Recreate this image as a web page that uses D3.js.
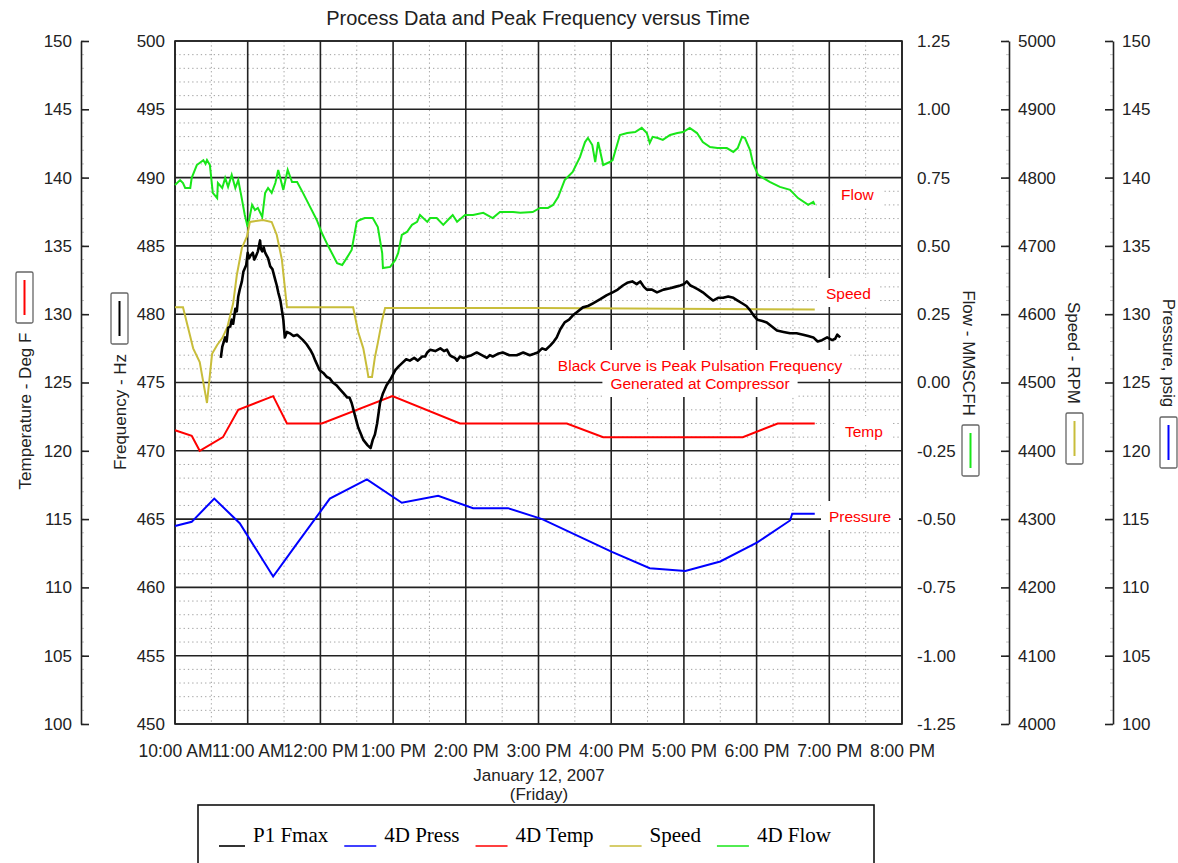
<!DOCTYPE html>
<html><head><meta charset="utf-8">
<script src="https://cdn.jsdelivr.net/npm/d3@7"></script>
<style>body{margin:0;background:#fff}</style>
</head><body>
<svg id="chart" width="1178" height="863"></svg>
<script>
// ---------------- DATA ----------------
const hourTicks = [10, 11, 12, 13, 14, 15, 16, 17, 18, 19, 20];
const timeLabels = ["10:00 AM","11:00 AM","12:00 PM","1:00 PM","2:00 PM","3:00 PM","4:00 PM","5:00 PM","6:00 PM","7:00 PM","8:00 PM"];
const freqTicks = [450, 455, 460, 465, 470, 475, 480, 485, 490, 495, 500];
const tempTicks = [100, 105, 110, 115, 120, 125, 130, 135, 140, 145, 150];
const flowTicks = [-1.25, -1.0, -0.75, -0.5, -0.25, 0, 0.25, 0.5, 0.75, 1.0, 1.25];
const speedTicks = [4000, 4100, 4200, 4300, 4400, 4500, 4600, 4700, 4800, 4900, 5000];
const pressTicks = [100, 105, 110, 115, 120, 125, 130, 135, 140, 145, 150];
const seriesNames = ["P1 Fmax", "4D Press", "4D Temp", "Speed", "4D Flow"];

// [hour of day, value]
const freqSeries = [[10.63,476.8],[10.65,477.6],[10.69,478.3],[10.71,478.0],[10.73,479.0],[10.76,479.1],[10.78,479.6],[10.80,479.3],[10.83,480.4],[10.85,480.2],[10.87,481.3],[10.89,481.8],[10.92,482.4],[10.94,483.1],[10.98,483.6],[11.00,484.5],[11.02,484.1],[11.04,484.3],[11.07,484.5],[11.09,484.0],[11.11,484.2],[11.14,484.6],[11.17,485.4],[11.18,484.8],[11.20,484.6],[11.22,484.9],[11.24,484.5],[11.28,484.1],[11.31,483.5],[11.34,483.3],[11.38,482.5],[11.40,482.1],[11.42,481.6],[11.45,481.0],[11.47,480.3],[11.49,479.6],[11.51,478.3],[11.54,478.7],[11.58,478.6],[11.63,478.4],[11.68,478.5],[11.72,478.3],[11.76,478.1],[11.81,477.8],[11.86,477.4],[11.90,477.0],[11.93,476.6],[11.99,475.9],[12.04,475.7],[12.09,475.4],[12.13,475.3],[12.17,475.0],[12.22,474.8],[12.27,474.5],[12.32,474.2],[12.37,473.9],[12.40,473.9],[12.43,473.5],[12.48,472.5],[12.52,471.7],[12.56,471.2],[12.59,470.8],[12.62,470.6],[12.65,470.4],[12.69,470.2],[12.72,470.8],[12.75,471.2],[12.78,472.0],[12.82,473.5],[12.86,474.2],[12.91,474.8],[12.96,475.2],[13.00,475.6],[13.03,475.9],[13.08,476.2],[13.12,476.4],[13.18,476.7],[13.23,476.6],[13.29,476.8],[13.34,476.6],[13.40,476.9],[13.44,476.9],[13.47,477.2],[13.51,477.4],[13.58,477.3],[13.65,477.5],[13.70,477.3],[13.74,477.4],[13.78,477.0],[13.81,476.9],[13.85,476.8],[13.88,476.6],[13.92,476.9],[13.97,476.8],[14.02,476.9],[14.08,477.0],[14.15,477.2],[14.22,477.0],[14.29,476.8],[14.33,477.0],[14.37,476.9],[14.44,477.1],[14.51,477.2],[14.60,477.0],[14.70,477.0],[14.79,477.2],[14.88,477.0],[14.94,477.1],[14.99,477.2],[15.05,477.5],[15.10,477.4],[15.16,477.7],[15.21,478.0],[15.25,478.3],[15.30,478.9],[15.36,479.4],[15.42,479.6],[15.47,479.9],[15.54,480.2],[15.61,480.5],[15.68,480.6],[15.75,480.8],[15.85,481.1],[15.94,481.4],[16.02,481.6],[16.09,481.8],[16.16,482.1],[16.22,482.3],[16.29,482.4],[16.35,482.2],[16.40,482.4],[16.45,482.0],[16.49,481.8],[16.56,481.8],[16.63,481.6],[16.72,481.8],[16.81,481.9],[16.88,482.0],[16.95,482.1],[17.00,482.2],[17.04,482.4],[17.09,482.1],[17.13,482.0],[17.20,481.8],[17.26,481.6],[17.33,481.3],[17.40,481.0],[17.47,481.2],[17.54,481.2],[17.61,481.3],[17.68,481.2],[17.74,481.0],[17.80,480.8],[17.86,480.6],[17.91,480.3],[17.96,479.9],[18.01,479.6],[18.08,479.5],[18.14,479.4],[18.21,479.1],[18.28,478.8],[18.37,478.7],[18.46,478.6],[18.55,478.6],[18.64,478.5],[18.71,478.4],[18.78,478.3],[18.84,478.0],[18.90,478.1],[18.97,478.3],[19.04,478.1],[19.08,478.2],[19.11,478.5],[19.15,478.3]];

const pressSeries = [[10.0,114.5],[10.23,114.8],[10.54,116.5],[10.89,114.7],[11.35,110.8],[11.65,113.0],[12.13,116.5],[12.64,117.9],[13.12,116.2],[13.62,116.7],[14.10,115.8],[14.58,115.8],[15.05,115.0],[16.01,112.6],[16.53,111.4],[17.02,111.2],[17.50,111.9],[18.01,113.3],[18.46,114.9],[18.49,115.4],[18.8,115.4]];

const tempSeries = [[10.0,121.5],[10.23,121.1],[10.34,120.0],[10.66,121.0],[10.87,123.0],[11.35,124.0],[11.54,122.0],[12.02,122.0],[12.99,124.0],[13.92,122.0],[15.39,122.0],[15.89,121.0],[17.81,121.0],[18.29,122.0],[18.8,122.0]];

const speedSeries = [[10.0,4610],[10.11,4610],[10.18,4580],[10.25,4550],[10.34,4530],[10.44,4470],[10.51,4542],[10.58,4555],[10.65,4565],[10.72,4581],[10.80,4616],[10.85,4657],[10.92,4697],[10.99,4714],[11.03,4735],[11.21,4738],[11.33,4735],[11.40,4716],[11.47,4680],[11.54,4610],[12.45,4610],[12.52,4574],[12.59,4550],[12.64,4521],[12.66,4508],[12.71,4508],[12.75,4537],[12.79,4558],[12.85,4592],[12.89,4609],[15.0,4609],[18.8,4607]];

const flowSeries = [[10.00,0.723],[10.07,0.741],[10.11,0.730],[10.14,0.712],[10.21,0.712],[10.23,0.749],[10.30,0.796],[10.39,0.814],[10.42,0.800],[10.44,0.814],[10.48,0.796],[10.52,0.694],[10.58,0.675],[10.59,0.730],[10.65,0.712],[10.69,0.749],[10.73,0.716],[10.78,0.760],[10.83,0.712],[10.87,0.741],[10.91,0.686],[10.96,0.613],[11.00,0.569],[11.06,0.650],[11.10,0.631],[11.14,0.639],[11.20,0.606],[11.24,0.694],[11.28,0.712],[11.33,0.694],[11.38,0.730],[11.42,0.778],[11.49,0.705],[11.55,0.778],[11.61,0.734],[11.68,0.734],[11.76,0.694],[11.86,0.642],[11.95,0.595],[12.02,0.547],[12.10,0.503],[12.23,0.437],[12.30,0.430],[12.37,0.459],[12.43,0.485],[12.50,0.588],[12.54,0.595],[12.61,0.602],[12.72,0.602],[12.79,0.569],[12.85,0.474],[12.86,0.419],[12.96,0.423],[13.03,0.448],[13.07,0.474],[13.12,0.540],[13.19,0.551],[13.26,0.577],[13.33,0.588],[13.37,0.613],[13.47,0.588],[13.51,0.602],[13.60,0.602],[13.69,0.577],[13.78,0.602],[13.82,0.613],[13.88,0.588],[13.99,0.613],[14.10,0.613],[14.24,0.621],[14.37,0.602],[14.47,0.624],[14.65,0.624],[14.75,0.621],[14.92,0.624],[15.02,0.639],[15.13,0.639],[15.20,0.650],[15.27,0.679],[15.36,0.741],[15.47,0.771],[15.57,0.825],[15.64,0.880],[15.68,0.895],[15.74,0.869],[15.78,0.807],[15.82,0.880],[15.89,0.796],[15.98,0.807],[16.02,0.814],[16.12,0.906],[16.22,0.913],[16.33,0.917],[16.42,0.932],[16.49,0.913],[16.53,0.877],[16.57,0.899],[16.64,0.895],[16.71,0.888],[16.81,0.906],[16.91,0.913],[16.99,0.917],[17.08,0.932],[17.18,0.913],[17.26,0.880],[17.36,0.862],[17.46,0.858],[17.59,0.858],[17.68,0.844],[17.74,0.858],[17.80,0.899],[17.84,0.895],[17.91,0.851],[17.95,0.803],[18.02,0.760],[18.18,0.734],[18.32,0.716],[18.46,0.705],[18.57,0.675],[18.71,0.650],[18.78,0.661],[18.80,0.650]];

// ---------------- LAYOUT ----------------
const X0 = 175, X1 = 902, Y0 = 41, Y1 = 724;
const SANS = "'Liberation Sans', Arial, sans-serif";
const SERIF = "'Liberation Serif', 'Times New Roman', serif";
const colors = {freq:"#000000", press:"#0000ff", temp:"#ff0000", speed:"#c8bd3a", flow:"#19e619"};
const legendColors = [colors.freq, colors.press, colors.temp, colors.speed, colors.flow];
const TICK_FS = 17;

const svg = d3.select("#chart");
const x = d3.scaleLinear().domain([10, 20]).range([X0, X1]);
const yFreq = d3.scaleLinear().domain([450, 500]).range([Y1, Y0]);
const yTemp = d3.scaleLinear().domain([100, 150]).range([Y1, Y0]);
const yFlow = d3.scaleLinear().domain([-1.25, 1.25]).range([Y1, Y0]);
const ySpeed = d3.scaleLinear().domain([4000, 5000]).range([Y1, Y0]);
const yPress = d3.scaleLinear().domain([100, 150]).range([Y1, Y0]);

// minor grid
const minorH = d3.range(450, 501, 1).filter(v => v % 5 !== 0);
const minorV = d3.range(10.5, 20, 1);
const g = svg.append("g");
g.selectAll(".mh").data(minorH).join("line")
  .attr("x1", X0).attr("x2", X1).attr("y1", d => yFreq(d)).attr("y2", d => yFreq(d))
  .attr("stroke", "#a0a0a0").attr("stroke-width", 1).attr("stroke-dasharray", "1.3,3");
g.selectAll(".mv").data(minorV).join("line")
  .attr("x1", d => x(d)).attr("x2", d => x(d)).attr("y1", Y0).attr("y2", Y1)
  .attr("stroke", "#a0a0a0").attr("stroke-width", 1).attr("stroke-dasharray", "1.3,3");
// major grid
g.selectAll(".Mh").data(freqTicks).join("line")
  .attr("x1", X0).attr("x2", X1).attr("y1", d => yFreq(d)).attr("y2", d => yFreq(d))
  .attr("stroke", "#222").attr("stroke-width", 1.6);
g.selectAll(".Mv").data(hourTicks).join("line")
  .attr("x1", d => x(d)).attr("x2", d => x(d)).attr("y1", Y0).attr("y2", Y1)
  .attr("stroke", "#222").attr("stroke-width", 1.6);

// annotation texts (with white backgrounds)
const annG = svg.append("g");
const ann = [
  {t:"Flow", x:841, y:200, anchor:"start"},
  {t:"Speed", x:826, y:299, anchor:"start"},
  {t:"Black Curve is Peak Pulsation Frequency", x:700, y:371, anchor:"middle"},
  {t:"Generated at Compressor", x:700, y:389, anchor:"middle"},
  {t:"Temp", x:845, y:437, anchor:"start"},
  {t:"Pressure", x:829, y:522, anchor:"start"}
];
const bgG = annG.append("g");
const txG = annG.append("g");
const texts = txG.selectAll("text").data(ann).join("text")
  .attr("x", d => d.x).attr("y", d => d.y).attr("text-anchor", d => d.anchor)
  .attr("font-family", SANS).attr("font-size", 15.5).attr("fill", "#ff0000").text(d => d.t);
texts.each(function() {
  const b = this.getBBox();
  bgG.append("rect").attr("x", b.x - 8).attr("y", b.y - 7).attr("width", b.width + 16).attr("height", b.height + 12).attr("fill", "#fff");
});

// border
svg.append("rect").attr("x", X0).attr("y", Y0).attr("width", X1 - X0).attr("height", Y1 - Y0)
  .attr("fill", "none").attr("stroke", "#222").attr("stroke-width", 1.6);

// lines
const mk = (ys) => d3.line().x(d => x(d[0])).y(d => ys(d[1]));
svg.append("path").datum(flowSeries).attr("d", mk(yFlow)).attr("fill","none").attr("stroke", colors.flow).attr("stroke-width", 2);
svg.append("path").datum(speedSeries).attr("d", mk(ySpeed)).attr("fill","none").attr("stroke", colors.speed).attr("stroke-width", 2);
svg.append("path").datum(tempSeries).attr("d", mk(yTemp)).attr("fill","none").attr("stroke", colors.temp).attr("stroke-width", 2);
svg.append("path").datum(pressSeries).attr("d", mk(yPress)).attr("fill","none").attr("stroke", colors.press).attr("stroke-width", 2);
svg.append("path").datum(freqSeries).attr("d", mk(yFreq)).attr("fill","none").attr("stroke", colors.freq).attr("stroke-width", 2.6).attr("stroke-linejoin","round");

// axes
function styleAxis(sel, size) {
  sel.selectAll("text").attr("font-family", SANS).attr("font-size", size).attr("fill", "#222");
  sel.selectAll("line").attr("stroke", "#222").attr("stroke-width", 1.6);
  sel.select(".domain").attr("stroke", "#222").attr("stroke-width", 1.6);
}
function minorTicks(ax, scale, step, dir) {
  const dom = scale.domain();
  const vals = d3.range(dom[0], dom[1] + step / 2, step);
  svg.append("g").selectAll("line").data(vals).join("line")
    .attr("x1", ax).attr("x2", ax + dir * 3).attr("y1", d => scale(d)).attr("y2", d => scale(d))
    .attr("stroke", "#c4c4c4").attr("stroke-width", 1);
}
minorTicks(81, yTemp, 1, 1);
minorTicks(1009, ySpeed, 20, -1);
minorTicks(1113, yPress, 1, -1);

const axT = svg.append("g").attr("transform", `translate(81,0)`)
  .call(d3.axisLeft(yTemp).tickValues(tempTicks).tickSizeInner(-8).tickSizeOuter(0).tickPadding(9));
styleAxis(axT, TICK_FS);
const axF = svg.append("g").attr("transform", `translate(${X0},0)`)
  .call(d3.axisLeft(yFreq).tickValues(freqTicks).tickSize(0).tickPadding(10));
axF.select(".domain").remove(); styleAxis(axF, TICK_FS);
const axFl = svg.append("g").attr("transform", `translate(${X1},0)`)
  .call(d3.axisRight(yFlow).tickValues(flowTicks).tickFormat(d => d3.format(".2f")(d).replace("\u2212", "-")).tickSize(0).tickPadding(15));
axFl.select(".domain").remove(); styleAxis(axFl, TICK_FS);
const axS = svg.append("g").attr("transform", `translate(1009,0)`)
  .call(d3.axisRight(ySpeed).tickValues(speedTicks).tickFormat(d3.format("d")).tickSizeInner(-8).tickSizeOuter(0).tickPadding(9));
styleAxis(axS, TICK_FS);
const axP = svg.append("g").attr("transform", `translate(1113,0)`)
  .call(d3.axisRight(yPress).tickValues(pressTicks).tickSizeInner(-8).tickSizeOuter(0).tickPadding(9));
styleAxis(axP, TICK_FS);
const axX = svg.append("g").attr("transform", `translate(0,${Y1})`)
  .call(d3.axisBottom(x).tickValues(hourTicks).tickFormat((d, i) => timeLabels[i]).tickSize(0).tickPadding(21));
axX.select(".domain").remove(); styleAxis(axX, 17.5);

// title & x titles
svg.append("text").attr("x", 538).attr("y", 25).attr("text-anchor", "middle")
  .attr("font-family", SANS).attr("font-size", 20).attr("fill", "#222")
  .text("Process Data and Peak Frequency versus Time");
svg.append("text").attr("x", 539).attr("y", 781).attr("text-anchor", "middle")
  .attr("font-family", SANS).attr("font-size", 17).attr("fill", "#222").text("January 12, 2007");
svg.append("text").attr("x", 539).attr("y", 800).attr("text-anchor", "middle")
  .attr("font-family", SANS).attr("font-size", 17).attr("fill", "#222").text("(Friday)");

// rotated axis titles with swatch boxes
const axTitles = [
  {t:"Temperature - Deg F", x:25, y:411, rot:-90, c:colors.temp, bx:16, by:272},
  {t:"Frequency - Hz", x:120, y:412, rot:-90, c:colors.freq, bx:111, by:293},
  {t:"Flow - MMSCFH", x:968, y:353, rot:90, c:colors.flow, bx:962, by:425},
  {t:"Speed - RPM", x:1073, y:353, rot:90, c:colors.speed, bx:1066, by:413},
  {t:"Pressure, psig", x:1168, y:353, rot:90, c:colors.press, bx:1160, by:417}
];
axTitles.forEach(a => {
  svg.append("text").attr("transform", `translate(${a.x},${a.y}) rotate(${a.rot})`)
    .attr("text-anchor", "middle").attr("dominant-baseline", "central")
    .attr("font-family", SANS).attr("font-size", 17).attr("fill", "#222").text(a.t);
  svg.append("rect").attr("x", a.bx).attr("y", a.by).attr("width", 17).attr("height", 51).attr("rx", 1.5)
    .attr("fill", "#fff").attr("stroke", "#666").attr("stroke-width", 1.3);
  svg.append("line").attr("x1", a.bx + 8.5).attr("x2", a.bx + 8.5).attr("y1", a.by + 8).attr("y2", a.by + 43)
    .attr("stroke", a.c).attr("stroke-width", 2);
});

// legend
svg.append("rect").attr("x", 198).attr("y", 805).attr("width", 676).attr("height", 80)
  .attr("fill", "#fff").attr("stroke", "#111").attr("stroke-width", 1.6);
let lx = 219;
seriesNames.forEach((n, i) => {
  const len = i === 0 ? 26 : 32;
  svg.append("line").attr("x1", lx).attr("x2", lx + len).attr("y1", 846).attr("y2", 846)
    .attr("stroke", legendColors[i]).attr("stroke-width", 1.6);
  const t = svg.append("text").attr("x", lx + len + 8).attr("y", 842)
    .attr("font-family", SERIF).attr("font-size", 21).attr("fill", "#000").text(n);
  lx = lx + len + 8 + t.node().getComputedTextLength() + 16;
});
</script>
</body></html>
